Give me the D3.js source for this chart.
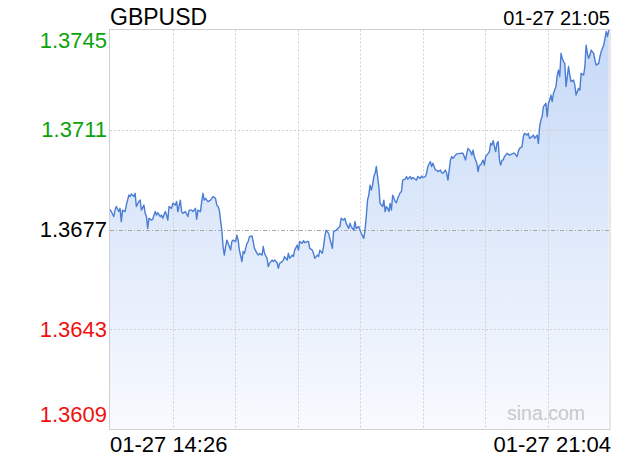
<!DOCTYPE html>
<html><head><meta charset="utf-8">
<script src="https://cdn.jsdelivr.net/npm/d3@7/dist/d3.min.js"></script>
<style>
html,body{margin:0;padding:0;background:#fff;}
svg{display:block;font-family:"Liberation Sans",Arial,Helvetica,sans-serif;}
</style></head>
<body><svg id="chart" width="620" height="460"></svg>
<script>
const symbol = "GBPUSD";
const headerTime = "01-27 21:05";
const xLabels = ["01-27 14:26", "01-27 21:04"];
const prevClose = 1.3677;
const yTicks = [1.3745, 1.3711, 1.3677, 1.3643, 1.3609];
const yTickLabels = ["1.3745", "1.3711", "1.3677", "1.3643", "1.3609"];
const totalMinutes = 398;
// minutes after 14:26
const minutes = [0,1,3,4,5,7,8,9,10,12,13,15,16,17,19,20,21,23,24,25,27,28,29,30,31,33,34,36,37,38,40,41,42,44,45,46,47,49,50,52,53,54,56,57,58,60,62,63,65,66,68,69,70,72,73,74,75,76,78,80,81,82,84,85,86,87,88,89,90,91,92,93,94,96,97,98,100,101,102,103,105,106,107,109,110,111,113,114,115,117,118,119,121,122,123,125,126,127,129,130,131,133,134,135,137,138,139,141,142,143,145,146,147,149,150,151,153,154,155,157,158,159,161,162,163,165,166,167,169,170,171,172,174,175,176,177,178,180,183,184,186,187,188,190,191,192,194,195,196,198,199,
200,202,203,204,205,206,207,208,209,210,211,212,213,214,215,217,218,219,220,221,222,223,224,225,227,228,229,231,232,233,235,236,237,239,240,241,243,244,245,247,248,249,251,252,253,255,256,257,259,260,261,263,264,265,267,268,269,271,272,273,275,276,279,281,283,284,285,287,288,289,290,292,293,294,295,297,298,299,301,302,303,304,305,306,307,308,309,310,311,312,313,314,316,318,321,322,324,325,326,328,329,330,332,333,334,336,337,338,340,341,342,343,344,345,347,348,349,350,351,352,353,355,356,357,358,359,360,361,362,363,364,365,366,367,369,370,371,373,374,375,377,378,379,380,381,382,383,385,386,387,389,390,391,393,394,395,396,397];
const prices = [1.36839,1.36831,1.36814,1.36836,1.36848,1.36831,1.36842,1.36797,1.36836,1.36831,1.36853,1.36887,1.36882,1.36891,1.36882,1.36893,1.36848,1.36865,1.36870,1.36836,1.36853,1.36825,1.36814,1.36774,1.36808,1.36802,1.36805,1.36831,1.36819,1.36827,1.36814,1.36819,1.36808,1.36831,1.36819,1.36802,1.36848,1.36842,1.36859,1.36853,1.36865,1.36831,1.36870,1.36831,1.36825,1.36831,1.36814,1.36836,1.36836,1.36831,1.36842,1.36805,1.36836,1.36831,1.36865,1.36893,1.36870,1.36876,1.36865,1.36870,1.36876,1.36882,1.36876,1.36853,1.36848,1.36836,1.36802,1.36768,1.36712,1.36683,1.36712,1.36734,1.36723,1.36700,1.36729,1.36734,1.36729,1.36751,1.36734,1.36700,1.36661,1.36695,1.36689,1.36723,1.36729,1.36746,1.36748,1.36729,1.36706,1.36689,1.36683,1.36689,1.36683,1.36712,1.36689,1.36672,1.36644,1.36655,1.36666,1.36661,1.36666,1.36657,1.36638,1.36655,1.36661,1.36666,1.36678,1.36666,1.36689,1.36672,1.36683,1.36678,1.36700,1.36717,1.36700,1.36729,1.36723,1.36732,1.36725,1.36729,1.36729,1.36706,1.36700,1.36689,1.36672,1.36683,1.36678,1.36700,1.36689,1.36712,1.36746,1.36768,1.36757,1.36740,1.36723,1.36706,1.36763,1.36768,1.36780,1.36808,1.36802,1.36808,1.36791,1.36774,1.36791,1.36780,1.36768,1.36797,1.36774,1.36780,1.36768,
1.36757,1.36740,1.36768,1.36814,1.36870,1.36887,1.36921,1.36904,1.36921,1.36950,1.36961,1.36984,1.36950,1.36916,1.36859,1.36848,1.36870,1.36831,1.36848,1.36842,1.36831,1.36859,1.36836,1.36887,1.36865,1.36861,1.36876,1.36895,1.36899,1.36938,1.36941,1.36950,1.36941,1.36950,1.36941,1.36947,1.36941,1.36938,1.36950,1.36944,1.36952,1.36947,1.36950,1.36961,1.36984,1.37001,1.36984,1.36995,1.36972,1.36972,1.36967,1.36972,1.36963,1.36961,1.36972,1.36961,1.36938,1.37006,1.37018,1.37012,1.37023,1.37027,1.37029,1.37029,1.37006,1.37029,1.37046,1.37035,1.37023,1.37040,1.37018,1.36995,1.36967,1.36989,1.36989,1.37006,1.36989,1.37018,1.37029,1.37035,1.37063,1.37057,1.37072,1.37052,1.37035,1.37063,1.37069,1.37006,1.36989,1.37006,1.37006,1.37018,1.37029,1.37023,1.37029,1.37029,1.37018,1.37035,1.37046,1.37052,1.37086,1.37097,1.37091,1.37097,1.37080,1.37086,1.37091,1.37080,1.37091,1.37063,1.37120,1.37142,1.37154,1.37188,1.37199,1.37154,1.37199,1.37210,1.37227,1.37205,1.37233,1.37256,1.37295,1.37312,1.37290,1.37369,1.37352,1.37341,1.37335,1.37256,1.37290,1.37324,1.37295,1.37273,1.37278,1.37261,1.37227,1.37250,1.37244,1.37301,1.37295,1.37324,1.37397,1.37369,1.37352,1.37363,1.37380,1.37369,1.37346,1.37329,1.37335,1.37358,1.37375,1.37397,1.37420,1.37443,1.37426,1.37448];

const data = minutes.map((m, i) => ({m: m, v: prices[i]}));

const svg = d3.select("#chart");
const L = 110, R = 610, T = 29.5, B = 429.5;
const x = d3.scaleLinear().domain([0, totalMinutes]).range([L, R]);
const y = d3.scaleLinear().domain([yTicks[4], yTicks[0]]).range([B, T]);

// gradient
const defs = svg.append("defs");
const grad = defs.append("linearGradient").attr("id", "fillGrad")
  .attr("gradientUnits", "userSpaceOnUse").attr("x1", 0).attr("x2", 0).attr("y1", T).attr("y2", B);
grad.append("stop").attr("offset", "0%").attr("stop-color", "#c6d9f7");
grad.append("stop").attr("offset", "100%").attr("stop-color", "#f8fafe");
defs.append("clipPath").attr("id", "clip").append("rect")
  .attr("x", L).attr("y", T).attr("width", R - L).attr("height", B - T);

// area
const area = d3.area().x(d => x(d.m)).y0(B).y1(d => y(d.v));
const line = d3.line().x(d => x(d.m)).y(d => y(d.v));
const plot = svg.append("g").attr("clip-path", "url(#clip)");
plot.append("path").datum(data).attr("d", area).attr("fill", "url(#fillGrad)");

// grid (drawn over the fill)
const g = svg.append("g");
const vCount = 8;
d3.range(1, vCount).forEach(k => {
  const xv = Math.round(L + (R - L) * k / vCount) + 0.5;
  g.append("line").attr("x1", xv).attr("x2", xv).attr("y1", T).attr("y2", B)
    .attr("stroke", "#d0d0d0").attr("stroke-width", 1).attr("stroke-dasharray", "2,2");
});
yTicks.slice(1, 4).forEach(t => {
  const yv = Math.round(y(t)) + 0.5;
  const isMid = t === prevClose;
  g.append("line").attr("x1", L).attr("x2", R).attr("y1", yv).attr("y2", yv)
    .attr("stroke", isMid ? "#a8a8a8" : "#d0d0d0").attr("stroke-width", 1)
    .attr("stroke-dasharray", isMid ? "4,2,1,2" : "2,2");
});

// line
svg.append("g").attr("clip-path", "url(#clip)")
  .append("path").datum(data).attr("d", line).attr("fill", "none")
  .attr("stroke", "#4a7dd3").attr("stroke-width", 1.4).attr("stroke-linejoin", "round");

// border
svg.append("rect").attr("x", L - 0.5).attr("y", T).attr("width", R - L + 0.5).attr("height", B - T)
  .attr("fill", "none").attr("stroke", "#d0d0d0").attr("stroke-width", 1);

// watermark
svg.append("text").attr("x", 585).attr("y", 420).attr("text-anchor", "end")
  .attr("font-size", 19.5).attr("fill", "#c8c8c8").text("sina.com");

// y labels
yTicks.forEach((t, i) => {
  let yy = y(t);
  if (i === 0) yy += 11;
  if (i === yTicks.length - 1) yy -= 15;
  const col = t > prevClose ? "#0ca20c" : (t < prevClose ? "#f01010" : "#000");
  svg.append("text").attr("x", 107).attr("y", yy).attr("dy", "0.36em")
    .attr("text-anchor", "end").attr("font-size", 22).attr("fill", col).text(yTickLabels[i]);
});

// title & time
svg.append("text").attr("x", 110).attr("y", 25).attr("font-size", 23).attr("fill", "#000").text(symbol);
svg.append("text").attr("x", 610).attr("y", 25).attr("text-anchor", "end").attr("font-size", 20).attr("fill", "#000").text(headerTime);

// x labels
svg.append("text").attr("x", 110).attr("y", 452).attr("font-size", 22).attr("fill", "#000").text(xLabels[0]);
svg.append("text").attr("x", 611).attr("y", 452).attr("text-anchor", "end").attr("font-size", 22).attr("fill", "#000").text(xLabels[1]);
</script>
</body></html>
